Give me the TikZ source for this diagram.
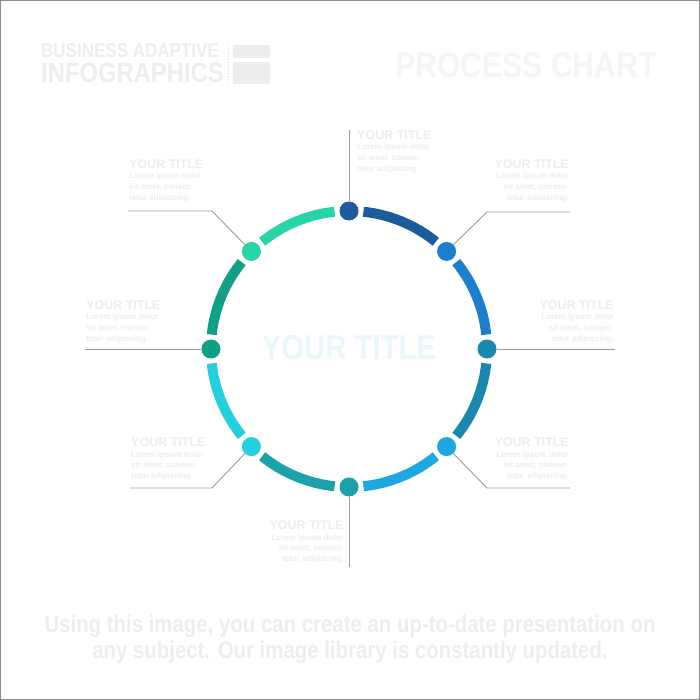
\documentclass[tikz,border=0pt]{standalone}
\usepackage{fontspec}
\setmainfont{Liberation Sans}
\newfontfamily\condfont[FakeStretch=0.85]{Liberation Sans}
\usetikzlibrary{calc}
\definecolor{c1}{HTML}{1B5C9C}
\definecolor{c2}{HTML}{1D7ECE}
\definecolor{c3}{HTML}{1A88AC}
\definecolor{c4}{HTML}{1EA8DF}
\definecolor{c5}{HTML}{1AA2A8}
\definecolor{c6}{HTML}{24CFDF}
\definecolor{c7}{HTML}{10A085}
\definecolor{c8}{HTML}{26D4A8}
\definecolor{linegray}{HTML}{9C9C9C}
\definecolor{txtlight}{HTML}{EDEDED}
\definecolor{txtlighter}{HTML}{F5F5F5}
\definecolor{centertxt}{HTML}{E8F7FA}
\begin{document}
\begin{tikzpicture}[x=1pt,y=-1pt,
  dot/.style={circle,inner sep=0pt,minimum size=19pt,draw=none},
  seg/.style={line width=10pt,line cap=butt},
  conn/.style={draw=linegray,line width=0.9pt},
  ttl/.style={font=\bfseries\fontsize{12.5}{12.5}\selectfont,text=txtlight,inner sep=0pt},
  bodytxt/.style={font=\bfseries\fontsize{8}{10.8}\selectfont,text=txtlight,inner sep=0pt},
]
\useasboundingbox (0,0) rectangle (700,700);
\fill[white] (0,0) rectangle (700,700);
\draw[black!45,line width=1pt] (0.5,0.5) rectangle (699.5,699.5);

% header
\node[anchor=base west,inner sep=0pt,text height=14pt,text depth=0pt,text=txtlight,font=\condfont\bfseries\fontsize{20}{20}\selectfont] (hdr1) at (41,58) {BUSINESS ADAPTIVE};
\node[anchor=base west,inner sep=0pt,text height=20pt,text depth=0pt,text=txtlight,font=\condfont\bfseries\fontsize{28}{28}\selectfont] (hdr2) at (41,83) {INFOGRAPHICS};
\draw[black!15,dotted,line width=0.8pt] (228,45) -- (228,84);
\fill[txtlight] (233,45) rectangle (270,58);
\fill[txtlight] (233,62) rectangle (270,84);
\node[inner sep=0pt,text=txtlighter,font=\condfont\bfseries\fontsize{35.5}{35.5}\selectfont] (pc) at (526,65) {PROCESS CHART};

% centre
\coordinate (c) at (349,349);
\node[inner sep=0pt,text=centertxt,font=\condfont\bfseries\fontsize{34.5}{34.5}\selectfont] (ctitle) at (349,348) {YOUR TITLE};

% ring arcs and dots
\foreach \i/\t in {1/90,2/45,3/0,4/-45,5/-90,6/-135,7/-180,8/-225}{
  \draw[seg,c\i] ($(c)+({-\t+6}:138)$) arc[start angle={-\t+6},end angle={-\t+39},radius=138];
  \node[dot,fill=c\i] (d\i) at ($(c)+({-\t}:138)$) {};
}

% connector end points
\coordinate (e1) at (349,130);
\coordinate (k2) at (487,212); \coordinate (e2) at (570,212);
\coordinate (e3) at (615,349);
\coordinate (k4) at (487,488); \coordinate (e4) at (570,488);
\coordinate (e5) at (349,567);
\coordinate (k6) at (212,488); \coordinate (e6) at (130,488);
\coordinate (e7) at (85,349);
\coordinate (k8) at (212,211); \coordinate (e8) at (128,211);

\draw[conn] (d1) -- (e1);
\draw[conn] (d2) -- (k2) -- (e2);
\draw[conn] (d3) -- (e3);
\draw[conn] (d4) -- (k4) -- (e4);
\draw[conn] (d5) -- (e5);
\draw[conn] (d6) -- (k6) -- (e6);
\draw[conn] (d7) -- (e7);
\draw[conn] (d8) -- (k8) -- (e8);

% text blocks
\node[ttl,anchor=west] (t1) at (357,135) {YOUR TITLE};
\node[bodytxt,anchor=north west,align=left] (b1) at (357,144) {Lorem ipsum dolor\\sit amet, consec-\\tetur adipiscing.};
\node[ttl,anchor=east] (t2) at (569,164) {YOUR TITLE};
\node[bodytxt,anchor=north east,align=right] (b2) at (569,173) {Lorem ipsum dolor\\sit amet, consec-\\tetur adipiscing.};
\node[ttl,anchor=east] (t3) at (614,305) {YOUR TITLE};
\node[bodytxt,anchor=north east,align=right] (b3) at (614,314) {Lorem ipsum dolor\\sit amet, consec-\\tetur adipiscing.};
\node[ttl,anchor=east] (t4) at (569,442) {YOUR TITLE};
\node[bodytxt,anchor=north east,align=right] (b4) at (569,451) {Lorem ipsum dolor\\sit amet, consec-\\tetur adipiscing.};
\node[ttl,anchor=east] (t5) at (344,525) {YOUR TITLE};
\node[bodytxt,anchor=north east,align=right] (b5) at (344,534) {Lorem ipsum dolor\\sit amet, consec-\\tetur adipiscing.};
\node[ttl,anchor=west] (t6) at (131,442) {YOUR TITLE};
\node[bodytxt,anchor=north west,align=left] (b6) at (131,451) {Lorem ipsum dolor\\sit amet, consec-\\tetur adipiscing.};
\node[ttl,anchor=west] (t7) at (86,305) {YOUR TITLE};
\node[bodytxt,anchor=north west,align=left] (b7) at (86,314) {Lorem ipsum dolor\\sit amet, consec-\\tetur adipiscing.};
\node[ttl,anchor=west] (t8) at (129,164) {YOUR TITLE};
\node[bodytxt,anchor=north west,align=left] (b8) at (129,173) {Lorem ipsum dolor\\sit amet, consec-\\tetur adipiscing.};

% footer
\node[inner sep=0pt,anchor=base,text=txtlight,font=\condfont\bfseries\fontsize{24}{24}\selectfont] (f1) at (350,632) {Using this image, you can create an up-to-date presentation on};
\node[inner sep=0pt,anchor=base,text=txtlight,font=\condfont\bfseries\fontsize{24}{24}\selectfont] (f2) at (350,658) {any subject. Our image library is constantly updated.};
\end{tikzpicture}
\end{document}
